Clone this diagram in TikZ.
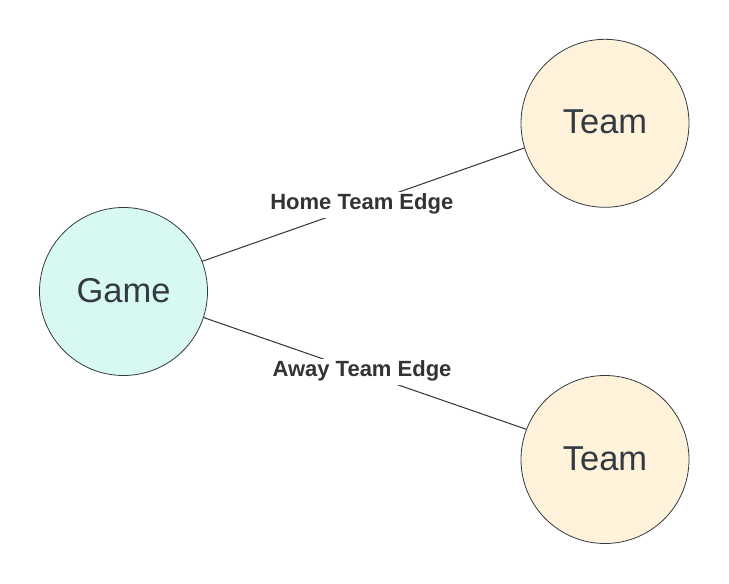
\documentclass[tikz,border=0pt]{standalone}
\usepackage{fontspec}
\setmainfont{Liberation Sans}
\definecolor{txt}{HTML}{333A42}
\definecolor{gamefill}{HTML}{D8F8F2}
\definecolor{teamfill}{HTML}{FFF2DA}
\definecolor{edgecol}{HTML}{333333}
\begin{document}
\begin{tikzpicture}[x=1pt,y=-1pt,
  entity/.style={circle,draw=txt,line width=0.8pt,minimum size=168pt,inner sep=0pt,
    text height=25pt,text depth=4pt,
    text=txt,font=\fontsize{34.5}{40}\selectfont},
  link/.style={draw=edgecol,line width=1pt},
  edgelabel/.style={fill=white,inner xsep=3pt,inner ysep=2pt,text height=16pt,text depth=6.5pt,
    text=edgecol,font=\fontsize{22}{26}\selectfont\bfseries}]
\useasboundingbox (0,0) rectangle (729,584);
\node[entity,fill=gamefill] (game) at (123.5,291.5) {Game};
\node[entity,fill=teamfill] (home) at (605,123.3) {Team};
\node[entity,fill=teamfill] (away) at (605,459.5) {Team};
\path[link] (game.21.8) -- node[edgelabel,xshift=-1.5pt,yshift=-0.5pt] (homelab) {Home Team Edge} (home.197.65);
\path[link] (game.-18.45) -- node[edgelabel,xshift=-3pt,yshift=1.6pt] (awaylab) {Away Team Edge} (away.159.5);
\end{tikzpicture}
\end{document}
